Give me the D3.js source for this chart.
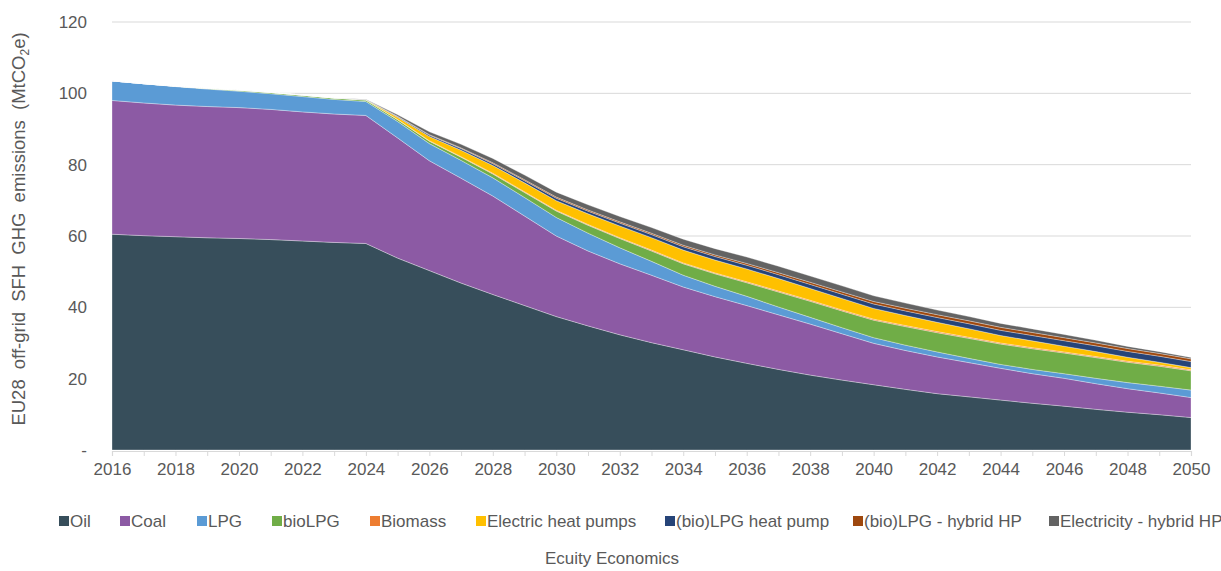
<!DOCTYPE html>
<html>
<head>
<meta charset="utf-8">
<script src="https://cdn.jsdelivr.net/npm/d3@7/dist/d3.min.js"></script>
<style>
  html, body { margin: 0; padding: 0; background: #ffffff; }
  svg { display: block; font-family: "Liberation Sans", Arial, Helvetica, sans-serif; }
</style>
</head>
<body>
<svg id="chart" width="1221" height="571"></svg>
<script>
const years = [2016,2017,2018,2019,2020,2021,2022,2023,2024,2025,2026,2027,2028,2029,2030,2031,2032,2033,2034,2035,2036,2037,2038,2039,2040,2041,2042,2043,2044,2045,2046,2047,2048,2049,2050];
const seriesNames = ["Oil","Coal","LPG","bioLPG","Biomass","Electric heat pumps","(bio)LPG heat pump","(bio)LPG - hybrid HP","Electricity - hybrid HP"];
const seriesColors = ["#374E5B","#8C5AA4","#5B9BD5","#70AD47","#ED7D31","#FFC000","#264478","#9E480E","#636363"];

const oil = [60.5,60.1,59.8,59.5,59.3,59.0,58.6,58.2,57.9,53.8,50.3,46.8,43.6,40.5,37.4,34.8,32.3,30.1,28.1,26.1,24.3,22.6,21.0,19.6,18.3,17.0,15.8,14.9,14.0,13.1,12.3,11.4,10.6,9.9,9.1];
const coal = [37.5,37.2,36.9,36.8,36.7,36.5,36.2,36.0,35.9,33.7,30.8,29.4,27.6,25.1,22.6,21.0,19.9,18.9,17.6,16.9,16.2,15.3,14.3,13.0,11.6,10.9,10.3,9.6,8.9,8.3,7.8,7.2,6.6,6.1,5.6];
const lpg = [5.5,5.4,5.2,4.9,4.6,4.4,4.3,4.1,3.9,4.6,4.8,5.0,5.1,5.2,5.2,5.0,4.5,3.9,3.3,2.9,2.6,2.2,1.9,1.7,1.6,1.5,1.4,1.2,1.1,1.2,1.3,1.5,1.7,1.9,2.1];
const bioLPG = [0,0,0.1,0.2,0.3,0.35,0.4,0.4,0.4,0.5,0.7,0.9,1.1,1.4,1.8,2.2,2.6,2.9,3.2,3.5,3.8,4.2,4.5,4.7,4.9,5.2,5.4,5.6,5.7,5.8,5.8,5.8,5.7,5.6,5.4];
const biomass = [0,0,0,0,0,0,0,0,0.02,0.08,0.12,0.15,0.18,0.2,0.2,0.22,0.22,0.24,0.25,0.25,0.26,0.27,0.28,0.28,0.29,0.3,0.3,0.3,0.3,0.3,0.3,0.3,0.3,0.3,0.3];
const electricHP = [0,0,0,0,0,0,0,0,0.1,0.6,1.2,1.8,2.2,2.5,2.7,3.0,3.3,3.5,3.6,3.6,3.6,3.5,3.3,3.2,3.0,2.8,2.6,2.4,2.1,1.9,1.6,1.4,1.1,0.8,0.6];
const bioLPGHP = [0,0,0,0,0,0,0,0,0.05,0.2,0.35,0.45,0.5,0.6,0.7,0.75,0.8,0.85,0.95,1.0,1.05,1.1,1.15,1.2,1.25,1.3,1.35,1.4,1.45,1.5,1.55,1.6,1.65,1.7,1.7];
const bioLPGHybrid = [0,0,0,0,0,0,0,0,0.02,0.1,0.15,0.2,0.25,0.28,0.3,0.32,0.35,0.38,0.4,0.45,0.5,0.55,0.6,0.65,0.7,0.75,0.8,0.82,0.85,0.85,0.85,0.82,0.8,0.78,0.75];
const elecHybrid = [0,0,0,0,0,0,0,0,0.05,0.4,0.8,1.0,1.2,1.3,1.4,1.45,1.5,1.6,1.7,1.75,1.8,1.8,1.75,1.7,1.6,1.45,1.3,1.2,1.1,1.0,0.9,0.75,0.6,0.5,0.4];

const yTicks = [0,20,40,60,80,100,120];
const xTickYears = [2016,2018,2020,2022,2024,2026,2028,2030,2032,2034,2036,2038,2040,2042,2044,2046,2048,2050];
const yTitle = "EU28 off-grid SFH GHG emissions (MtCO";
const sourceText = "Ecuity Economics";

const seriesValues = [oil, coal, lpg, bioLPG, biomass, electricHP, bioLPGHP, bioLPGHybrid, elecHybrid];
const table = years.map((yr, i) => {
  const row = { year: yr };
  seriesNames.forEach((n, k) => row[n] = seriesValues[k][i]);
  return row;
});

const svg = d3.select("#chart");
const mLeft = 112, mRight = 1191, mTop = 22, mBottom = 450;
const x = d3.scaleLinear().domain([2016, 2050]).range([mLeft, mRight]);
const y = d3.scaleLinear().domain([0, 120]).range([mBottom, mTop]);
const textColor = "#595959";
const gridColor = "#D9D9D9";

// gridlines
svg.append("g").selectAll("line").data(yTicks.filter(t => t > 0)).join("line")
  .attr("x1", mLeft).attr("x2", mRight)
  .attr("y1", d => y(d)).attr("y2", d => y(d))
  .attr("stroke", gridColor).attr("stroke-width", 1);

// stacked areas
const stack = d3.stack().keys(seriesNames);
const layers = stack(table);
const area = d3.area()
  .x(d => x(d.data.year))
  .y0(d => y(d[0]))
  .y1(d => y(d[1]));
svg.append("g").selectAll("path").data(layers).join("path")
  .attr("d", area)
  .attr("fill", (d, i) => seriesColors[i])
  .attr("stroke", "#ffffff")
  .attr("stroke-opacity", 0.45)
  .attr("stroke-width", 0.7);

// x axis
const xAxis = d3.axisBottom(x)
  .tickValues(years)
  .tickSize(5)
  .tickFormat(d => xTickYears.includes(d) ? String(d) : "");
const gx = svg.append("g").attr("transform", `translate(0,${mBottom + 1})`).call(xAxis);
gx.select(".domain").attr("stroke", gridColor).attr("stroke-width", 1.2);
gx.selectAll(".tick line").attr("stroke", gridColor);
gx.selectAll(".tick text").attr("fill", textColor).attr("font-size", 17)
  .attr("font-family", "Liberation Sans, Arial, sans-serif").attr("dy", "0.95em");

// y axis
const yAxis = d3.axisLeft(y).tickValues(yTicks).tickSize(0)
  .tickFormat(d => d === 0 ? "-" : String(d));
const gy = svg.append("g").attr("transform", `translate(${mLeft - 22},0)`).call(yAxis);
gy.select(".domain").remove();
gy.selectAll(".tick text").attr("fill", textColor).attr("font-size", 17)
  .attr("font-family", "Liberation Sans, Arial, sans-serif");

// y title
const yt = svg.append("text")
  .attr("transform", `translate(25,229) rotate(-90)`)
  .attr("text-anchor", "middle")
  .attr("fill", textColor)
  .attr("font-size", 18.5)
  .attr("word-spacing", 5);
yt.append("tspan").text(yTitle);
yt.append("tspan").text("2").attr("font-size", 12).attr("dy", 4);
yt.append("tspan").text("e)").attr("dy", -4);

// legend
const legendX = [59, 120, 197, 272, 370, 476, 665, 853, 1049];
const legend = svg.append("g");
seriesNames.forEach((n, i) => {
  const g = legend.append("g").attr("transform", `translate(${legendX[i]},521)`);
  g.append("rect").attr("x", 0).attr("y", -5).attr("width", 10).attr("height", 10).attr("fill", seriesColors[i]);
  g.append("text").attr("x", 11).attr("y", 0).attr("dy", "0.35em")
    .attr("fill", textColor).attr("font-size", 17).text(n);
});

// source
svg.append("text").attr("x", 612).attr("y", 558).attr("dy", "0.35em")
  .attr("text-anchor", "middle").attr("fill", textColor).attr("font-size", 17)
  .text(sourceText);
</script>
</body>
</html>
